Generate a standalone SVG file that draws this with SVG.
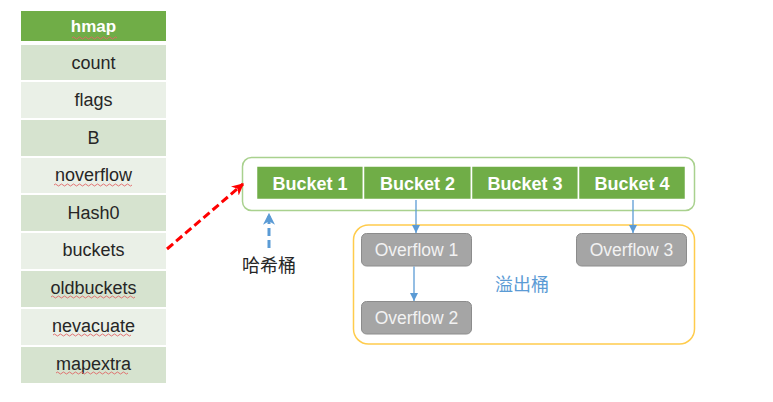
<svg xmlns="http://www.w3.org/2000/svg" width="773" height="402" viewBox="0 0 773 402">
<defs>
<marker id="blueHead" viewBox="0 0 10 10" refX="10" refY="5" markerWidth="8" markerHeight="8" markerUnits="userSpaceOnUse" orient="auto"><path d="M0,0 L10,5 L0,10 z" fill="#5B9BD5"/></marker>
<marker id="blueHeadBig" viewBox="0 0 10 10" refX="9" refY="5" markerWidth="12" markerHeight="12" markerUnits="userSpaceOnUse" orient="auto"><path d="M0,0 L10,5 L0,10 L3,5 z" fill="#5B9BD5"/></marker>
<marker id="redHead" viewBox="0 0 10 10" refX="9" refY="5" markerWidth="12" markerHeight="12" markerUnits="userSpaceOnUse" orient="auto"><path d="M0,0 L10,5 L0,10 L3,5 z" fill="#FF0000"/></marker>
</defs>
<style>
.row-d{fill:#D6E3CF}
.row-l{fill:#EAF0E7}
.hdr{fill:#70AD47}
.t{font-family:"Liberation Sans",Arial,sans-serif;font-size:18px;fill:#262626;text-anchor:middle}
.th{font-family:"Liberation Sans",Arial,sans-serif;font-size:17px;font-weight:bold;fill:#FFFFFF;text-anchor:middle}
.bk{fill:#70AD47;stroke:#FFFFFF;stroke-width:1.5}
.bt{font-family:"Liberation Sans",Arial,sans-serif;font-size:18px;font-weight:bold;fill:#FFFFFF;text-anchor:middle}
.of{fill:#A5A5A5;stroke:#8C8C8C;stroke-width:1}
.ot{font-family:"Liberation Sans",Arial,sans-serif;font-size:17.5px;fill:#F2F2F2;text-anchor:middle}
.cn{font-family:"Liberation Sans","Noto Sans CJK SC",sans-serif;font-size:18px;text-anchor:middle}
.sq{fill:none;stroke:#E06666;stroke-width:0.9}
</style>
<rect width="773" height="402" fill="#FFFFFF"/>

<g id="hmap">
<rect class="hdr" x="21" y="11" width="145" height="30"/>
<text class="th" x="93.5" y="32">hmap</text>
<path class="sq" d="M72,38 q1.5,-2 3,0 t3,0 t3,0 t3,0 t3,0 t3,0 t3,0 t3,0 t3,0 t3,0 t3,0 t3,0 t3,0 t3,0 t3,0"/>
</g>
<g id="row-count"><rect class="row-d" x="21" y="45" width="145" height="35"/><text class="t" x="93.5" y="68.5">count</text></g>
<g id="row-flags"><rect class="row-l" x="21" y="82" width="145" height="36"/><text class="t" x="93.5" y="106">flags</text></g>
<g id="row-B"><rect class="row-d" x="21" y="120" width="145" height="36"/><text class="t" x="93.5" y="144">B</text></g>
<g id="row-noverflow"><rect class="row-l" x="21" y="158" width="145" height="35"/><text class="t" x="93.5" y="181">noverflow</text>
<path class="sq" d="M54,185 q1.5,-2 3,0 t3,0 t3,0 t3,0 t3,0 t3,0 t3,0 t3,0 t3,0 t3,0 t3,0 t3,0 t3,0 t3,0 t3,0 t3,0 t3,0 t3,0 t3,0 t3,0 t3,0 t3,0 t3,0 t3,0 t3,0 t3,0"/></g>
<g id="row-Hash0"><rect class="row-d" x="21" y="195" width="145" height="36"/><text class="t" x="93.5" y="219">Hash0</text></g>
<g id="row-buckets"><rect class="row-l" x="21" y="233" width="145" height="36"/><text class="t" x="93.5" y="256">buckets</text></g>
<g id="row-oldbuckets"><rect class="row-d" x="21" y="271" width="145" height="36"/><text class="t" x="93.5" y="294">oldbuckets</text>
<path class="sq" d="M51,297 q1.5,-2 3,0 t3,0 t3,0 t3,0 t3,0 t3,0 t3,0 t3,0 t3,0 t3,0 t3,0 t3,0 t3,0 t3,0 t3,0 t3,0 t3,0 t3,0 t3,0 t3,0 t3,0 t3,0 t3,0 t3,0 t3,0 t3,0 t3,0 t3,0"/></g>
<g id="row-nevacuate"><rect class="row-l" x="21" y="309" width="145" height="36"/><text class="t" x="93.5" y="332">nevacuate</text>
<path class="sq" d="M53,335 q1.5,-2 3,0 t3,0 t3,0 t3,0 t3,0 t3,0 t3,0 t3,0 t3,0 t3,0 t3,0 t3,0 t3,0 t3,0 t3,0 t3,0 t3,0 t3,0 t3,0 t3,0 t3,0 t3,0 t3,0 t3,0 t3,0 t3,0"/></g>
<g id="row-mapextra"><rect class="row-d" x="21" y="347" width="145" height="36"/><text class="t" x="93.5" y="370">mapextra</text>
<path class="sq" d="M56,373 q1.5,-2 3,0 t3,0 t3,0 t3,0 t3,0 t3,0 t3,0 t3,0 t3,0 t3,0 t3,0 t3,0 t3,0 t3,0 t3,0 t3,0 t3,0 t3,0 t3,0 t3,0 t3,0 t3,0 t3,0 t3,0"/></g>

<g id="bucket-array">
<rect x="242.5" y="157.5" width="452" height="53" rx="9" fill="none" stroke="#A9D18E" stroke-width="1.5"/>
</g>
<g id="bucket1"><rect class="bk" x="256.5" y="166" width="107" height="33.5"/><text class="bt" x="310" y="189.5">Bucket 1</text></g>
<g id="bucket2"><rect class="bk" x="363.5" y="166" width="108" height="33.5"/><text class="bt" x="417.5" y="189.5">Bucket 2</text></g>
<g id="bucket3"><rect class="bk" x="471.5" y="166" width="107" height="33.5"/><text class="bt" x="525" y="189.5">Bucket 3</text></g>
<g id="bucket4"><rect class="bk" x="578.5" y="166" width="107" height="33.5"/><text class="bt" x="632" y="189.5">Bucket 4</text></g>

<g id="overflow-area">
<rect x="353.5" y="225" width="341" height="119" rx="15" fill="none" stroke="#FFCC4D" stroke-width="1.5"/>
<text class="cn" x="522" y="291" fill="#5B9BD5">溢出桶</text>
</g>
<g id="overflow1"><rect class="of" x="361.5" y="233.5" width="110" height="32.5" rx="5"/><text class="ot" x="416.5" y="256">Overflow 1</text></g>
<g id="overflow2"><rect class="of" x="361.5" y="301.5" width="110" height="32.5" rx="5"/><text class="ot" x="416.5" y="324">Overflow 2</text></g>
<g id="overflow3"><rect class="of" x="576.5" y="233.5" width="110" height="32.5" rx="5"/><text class="ot" x="631.5" y="256">Overflow 3</text></g>

<g id="hash-label"><text class="cn" x="269" y="272" fill="#262626">哈希桶</text></g>

<g id="connectors">
<line x1="416" y1="200" x2="416" y2="233" stroke="#5B9BD5" stroke-width="1.3" marker-end="url(#blueHead)"/>
<line x1="633" y1="200" x2="633" y2="233" stroke="#5B9BD5" stroke-width="1.3" marker-end="url(#blueHead)"/>
<line x1="414" y1="266.5" x2="414" y2="301" stroke="#5B9BD5" stroke-width="1.3" marker-end="url(#blueHead)"/>
<line x1="167" y1="249" x2="243" y2="184" stroke="#FF0000" stroke-width="3" stroke-dasharray="8,4" marker-end="url(#redHead)"/>
<line x1="269" y1="248" x2="269" y2="214" stroke="#5B9BD5" stroke-width="3" stroke-dasharray="8,4" marker-end="url(#blueHeadBig)"/>
</g>
</svg>
